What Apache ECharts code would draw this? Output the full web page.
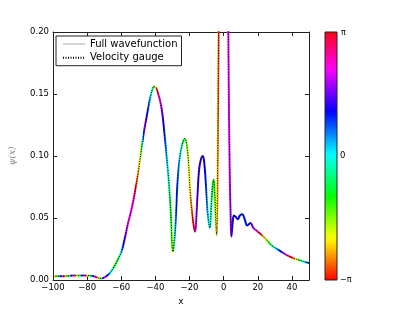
<!DOCTYPE html>
<html><head><meta charset="utf-8">
<script src="https://cdn.jsdelivr.net/npm/echarts@6/dist/echarts.min.js"></script>
<style>html,body{margin:0;padding:0;background:#fff}#c{width:415px;height:312px}</style>
</head><body><div id="c"></div>
<script>
// ---- data ----
const xs = [-100,-95,-90,-85,-80,-76,-72,-69.8,-67,-65,-62.5,-60,-58,-56,-54,-52,-50,-48.3,-46.4,-44.4,-42.5,-40.7,-39,-36.6,-34.6,-32.7,-31,-29.7,-28.9,-27.9,-26.9,-25,-22.7,-21,-19.6,-18.2,-16.9,-15.5,-14.4,-13.2,-12.2,-11.2,-10.2,-9.2,-8.1,-7.2,-6.4,-5.8,-5.2,-4.6,-4.1,-3.6,-3.1,-2.5,-1.5,0,1.5,2.3,2.9,3.5,4,4.5,5.2,6,7,8.3,9.5,10.9,12.3,13.8,15.7,17.4,20,23.3,26,29,33,37,41,44.8,47,50];
const ys = [0.0030,0.0031,0.0034,0.0037,0.0036,0.0030,0.0012,0.0022,0.0050,0.0090,0.0150,0.0226,0.033,0.046,0.057,0.071,0.087,0.105,0.122,0.137,0.150,0.156,0.153,0.140,0.117,0.089,0.055,0.023,0.032,0.055,0.081,0.105,0.114,0.102,0.070,0.050,0.039,0.065,0.089,0.098,0.100,0.092,0.073,0.052,0.042,0.062,0.077,0.081,0.070,0.048,0.036,0.090,0.180,0.300,0.500,0.650,0.500,0.300,0.170,0.090,0.055,0.035,0.045,0.052,0.051,0.049,0.052,0.053,0.049,0.044,0.046,0.042,0.039,0.035,0.031,0.027,0.0235,0.020,0.0175,0.0158,0.0148,0.0137];
// phase (radians)
const phaseX   = [-100,-98,-96,-94,-92,-90,-88,-86,-84,-82,-80,-78,-76,-74,-72,-70,-68,-66,-64,-62,-59,-56,-53,-51,-49,-48,-46.5,-44.4,-42.5,-41,-40,-39,-37.5,-35,-32.7,-30.8,-29.7,-28.8,-27.5,-26,-24,-22.7,-20.3,-18.8,-16.9,-15.3,-12.2,-10.5,-9.3,-8.1,-6.6,-5.8,-4.7,-4.1,-3.3,-2.5,2,3.5,4.5,5.5,8,12,15,17,19,21.5,24,27,30,33,36,39,42,44.5,47,50];
const phaseVal = [3.0,-1.3,0.7,2.7,-1.6,0.4,2.4,-1.9,0.1,2.1,-2.2,-0.2,1.8,-2.5,-0.6,2.1,1.05,0.0,-1.0,-1.0,1.0,2.2,2.2,-2.8,-2.1,-1.0,1.8,1.0,0.0,-1.0,-2.1,3.0,2.2,1.1,0.0,-1.0,-1.9,0.0,1.1,0.3,-0.6,-1.05,-2.0,-2.6,2.6,1.3,1.4,1.0,0.2,0.0,-0.9,-1.1,-1.7,-2.1,-2.6,3.0,2.2,2.1,1.6,1.1,1.1,1.0,1.1,1.7,2.2,3.1,-2.1,-1.0,0.0,1.05,2.0,3.0,-2.2,-1.0,0.2,1.0];
const xRange = [-100, 50, 20];
const yRange = [0, 0.2, 0.05];
const colorbarLabels = ['π', '0', '−π'];
const seriesNames = ['Full wavefunction', 'Velocity gauge'];

// ---- matplotlib "hsv" colormap ----
const cmapStops = [[0,[255,0,0]],[0.158730,[255,239,0]],[0.174603,[247,255,0]],[0.333333,[8,255,0]],[0.349206,[0,255,16]],[0.507937,[0,255,255]],[0.666667,[0,16,255]],[0.682540,[8,0,255]],[0.841270,[247,0,255]],[0.857143,[255,0,239]],[1,[255,0,24]]];
function cmap(t){
  t = ((t % 1) + 1) % 1;
  for (let i = 0; i < cmapStops.length - 1; i++) {
    const [a, ca] = cmapStops[i], [b, cb] = cmapStops[i+1];
    if (t >= a && t <= b) {
      const f = (t - a) / (b - a);
      const c = ca.map((v, k) => Math.round(v + f * (cb[k] - v)));
      return 'rgb(' + c.join(',') + ')';
    }
  }
  return 'rgb(255,0,0)';
}
const phaseColor = p => cmap((p + Math.PI) / (2 * Math.PI));

function phaseStops(){
  const x0 = xRange[0], x1 = xRange[1];
  const stops = [];
  for (let i = 0; i < phaseX.length - 1; i++) {
    const a = phaseVal[i];
    let d = phaseVal[i+1] - a;
    while (d > Math.PI) d -= 2 * Math.PI;
    while (d < -Math.PI) d += 2 * Math.PI;
    const n = 8;
    for (let k = 0; k < n; k++) {
      const f = k / n;
      const x = phaseX[i] + f * (phaseX[i+1] - phaseX[i]);
      stops.push({offset: Math.min(1, Math.max(0, (x - x0) / (x1 - x0))), color: phaseColor(a + f * d)});
    }
  }
  const L = phaseX.length - 1;
  stops.push({offset: Math.min(1, (phaseX[L] - x0) / (x1 - x0)), color: phaseColor(phaseVal[L])});
  return stops;
}
const barStops = [];
for (let i = 0; i <= 60; i++) barStops.push({offset: i / 60, color: cmap(i / 60)});

const pts = xs.map((x, i) => [x, ys[i]]);
const FONT = 'DejaVu Sans';
const minus = v => String(v).replace('-', '\u2212');
const noSymbol = {color: 'rgba(0,0,0,0)', borderColor: 'rgba(0,0,0,0)', borderWidth: 0, opacity: 0};

const chart = echarts.init(document.getElementById('c'), null, {renderer: 'canvas'});
const axisCommon = {
  axisLine: {show: true, onZero: false, lineStyle: {color: '#222', width: 1}},
  axisTick: {show: true, inside: true, length: 4, lineStyle: {color: '#222'}},
  splitLine: {show: false}
};
const option = {
  animation: false,
  backgroundColor: '#fff',
  grid: {left: 51, right: 106, top: 32, bottom: 32},
  legend: {
    orient: 'vertical', left: 56, top: 36, padding: [3, 4, 3, 6],
    itemWidth: 22, itemHeight: 12, itemGap: 3.7,
    borderColor: '#222', borderWidth: 1, borderRadius: 0,
    selectedMode: false,
    itemStyle: noSymbol,
    textStyle: {fontSize: 10, fontFamily: FONT, color: '#000'},
    data: [
      {name: seriesNames[0], lineStyle: {color: '#aaa', width: 1}, itemStyle: noSymbol},
      {name: seriesNames[1], itemStyle: noSymbol}
    ]
  },
  xAxis: [
    Object.assign({type: 'value', min: xRange[0], max: xRange[1], interval: xRange[2],
      name: 'x', nameLocation: 'middle', nameGap: 9,
      nameTextStyle: {fontSize: 9, fontFamily: FONT, color: '#000'},
      axisLabel: {fontSize: 8.5, fontFamily: FONT, color: '#000', margin: 3, showMaxLabel: false, hideOverlap: false, formatter: minus}
    }, axisCommon),
    Object.assign({type: 'value', position: 'top', min: xRange[0], max: xRange[1], interval: xRange[2],
      axisLabel: {show: false}}, axisCommon)
  ],
  yAxis: [
    Object.assign({type: 'value', min: yRange[0], max: yRange[1], interval: yRange[2],
      name: 'ψ(x)', nameLocation: 'middle', nameGap: 36, nameRotate: 90,
      nameTextStyle: {fontSize: 9, fontFamily: 'DejaVu Serif', fontStyle: 'italic', color: '#888'},
      axisLabel: {fontSize: 8.5, fontFamily: FONT, color: '#000', margin: 4, hideOverlap: false, formatter: v => v.toFixed(2)}
    }, axisCommon),
    Object.assign({type: 'value', position: 'right', min: yRange[0], max: yRange[1], interval: yRange[2],
      axisLabel: {show: false}}, axisCommon)
  ],
  series: [
    {name: seriesNames[0], type: 'line', data: pts, smooth: 0.4, showSymbol: false, symbol: 'none',
      clip: true, z: 2, lineStyle: {width: 2, color: '#0000ff'}},
    {name: seriesNames[1], type: 'line', data: pts, smooth: 0.4, showSymbol: false, symbol: 'none',
      clip: true, z: 3, lineStyle: {width: 1, color: '#000', type: [1, 1.5]}}
  ],
  graphic: [
    {type: 'rect', shape: {x: 325, y: 32, width: 12, height: 248},
      style: {fill: {type: 'linear', x: 0, y: 1, x2: 0, y2: 0, colorStops: barStops}, stroke: '#222', lineWidth: 1}},
    {type: 'text', x: 341, y: 33, style: {text: colorbarLabels[0], fontSize: 8, fontFamily: FONT, fill: '#000', verticalAlign: 'middle'}},
    {type: 'text', x: 340, y: 156, style: {text: colorbarLabels[1], fontSize: 8.5, fontFamily: FONT, fill: '#000', verticalAlign: 'middle'}},
    {type: 'text', x: 340, y: 280, style: {text: colorbarLabels[2], fontSize: 8, fontFamily: FONT, fill: '#000', verticalAlign: 'middle'}}
  ]
};
chart.setOption(option);
const px0 = chart.convertToPixel({xAxisIndex: 0}, xRange[0]);
const px1 = chart.convertToPixel({xAxisIndex: 0}, xRange[1]);
chart.setOption({series: [{lineStyle: {color: {type: 'linear', x: px0, y: 0, x2: px1, y2: 0, global: true, colorStops: phaseStops()}}}]});
</script></body></html>
